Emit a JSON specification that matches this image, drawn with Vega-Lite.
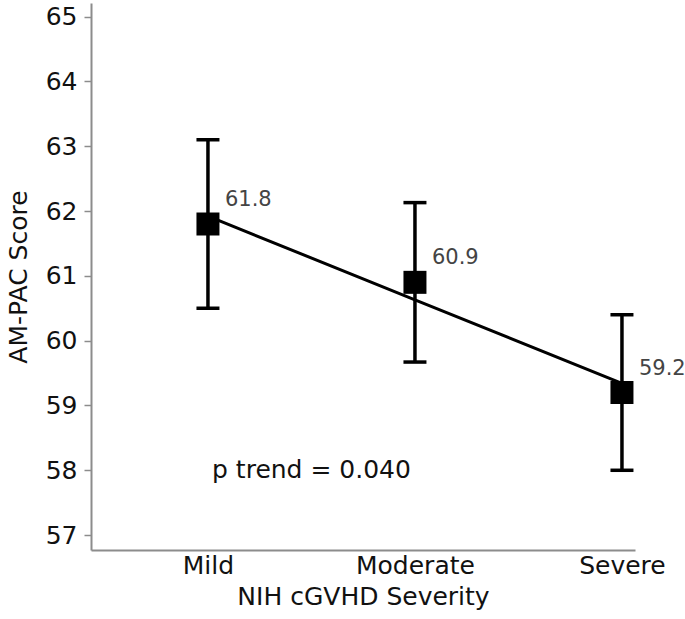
{
  "$schema": "https://vega.github.io/schema/vega-lite/v6.json",
  "autosize": "none",
  "padding": {"left": 91, "top": 3, "right": 50, "bottom": 69},
  "width": 544,
  "height": 547,
  "background": "white",
  "datasets": {
    "scores": [
      {"severity": "Mild", "idx": 1, "mean": 61.8, "lo": 60.5, "hi": 63.1, "trend": 61.92, "label": "61.8"},
      {"severity": "Moderate", "idx": 2, "mean": 60.9, "lo": 59.67, "hi": 62.13, "trend": 60.63, "label": "60.9"},
      {"severity": "Severe", "idx": 3, "mean": 59.2, "lo": 58.0, "hi": 60.4, "trend": 59.34, "label": "59.2"}
    ],
    "note": [
      {"idx": 1.5, "y": 58, "text": "p trend = 0.040"}
    ]
  },
  "data": {"name": "scores"},
  "encoding": {
    "x": {
      "field": "idx",
      "type": "quantitative",
      "scale": {"domain": [0.435, 3.063], "nice": false, "zero": false},
      "axis": {
        "values": [1, 2, 3],
        "labelExpr": "datum.value == 1 ? 'Mild' : datum.value == 2 ? 'Moderate' : 'Severe'",
        "title": "NIH cGVHD Severity",
        "grid": false,
        "ticks": false,
        "labelPadding": 3,
        "titlePadding": 6
      }
    }
  },
  "layer": [
    {
      "mark": {"type": "line", "color": "black", "strokeWidth": 3},
      "encoding": {
        "y": {
          "field": "trend",
          "type": "quantitative",
          "scale": {"domain": [56.77, 65.21], "nice": false, "zero": false},
          "axis": {
            "values": [57, 58, 59, 60, 61, 62, 63, 64, 65],
            "format": "d",
            "title": "AM-PAC Score",
            "grid": false,
            "tickSize": 7,
            "labelPadding": 7,
            "titlePadding": 14
          }
        }
      }
    },
    {
      "mark": {"type": "rule", "color": "black", "strokeWidth": 3.5},
      "encoding": {
        "y": {"field": "lo", "type": "quantitative"},
        "y2": {"field": "hi"}
      }
    },
    {
      "mark": {"type": "tick", "orient": "horizontal", "color": "black", "size": 23, "thickness": 3.5, "opacity": 1},
      "encoding": {"y": {"field": "lo", "type": "quantitative"}}
    },
    {
      "mark": {"type": "tick", "orient": "horizontal", "color": "black", "size": 23, "thickness": 3.5, "opacity": 1},
      "encoding": {"y": {"field": "hi", "type": "quantitative"}}
    },
    {
      "mark": {"type": "point", "shape": "square", "filled": true, "color": "black", "size": 529, "opacity": 1},
      "encoding": {"y": {"field": "mean", "type": "quantitative"}}
    },
    {
      "mark": {"type": "text", "align": "left", "baseline": "middle", "dx": 17, "dy": -24, "fontSize": 21, "color": "#444444", "font": "DejaVu Sans"},
      "encoding": {
        "y": {"field": "mean", "type": "quantitative"},
        "text": {"field": "label"}
      }
    },
    {
      "data": {"name": "note"},
      "mark": {"type": "text", "align": "center", "baseline": "middle", "fontSize": 25, "color": "#111111", "font": "DejaVu Sans"},
      "encoding": {
        "y": {"field": "y", "type": "quantitative"},
        "text": {"field": "text"}
      }
    }
  ],
  "config": {
    "view": {"stroke": null},
    "axis": {
      "domainColor": "#8c8c8c",
      "domainWidth": 2,
      "tickColor": "#8c8c8c",
      "tickWidth": 1.5,
      "labelFont": "DejaVu Sans",
      "labelFontSize": 25,
      "labelColor": "#111111",
      "titleFont": "DejaVu Sans",
      "titleFontSize": 25,
      "titleFontWeight": "normal",
      "titleColor": "#111111"
    }
  }
}
